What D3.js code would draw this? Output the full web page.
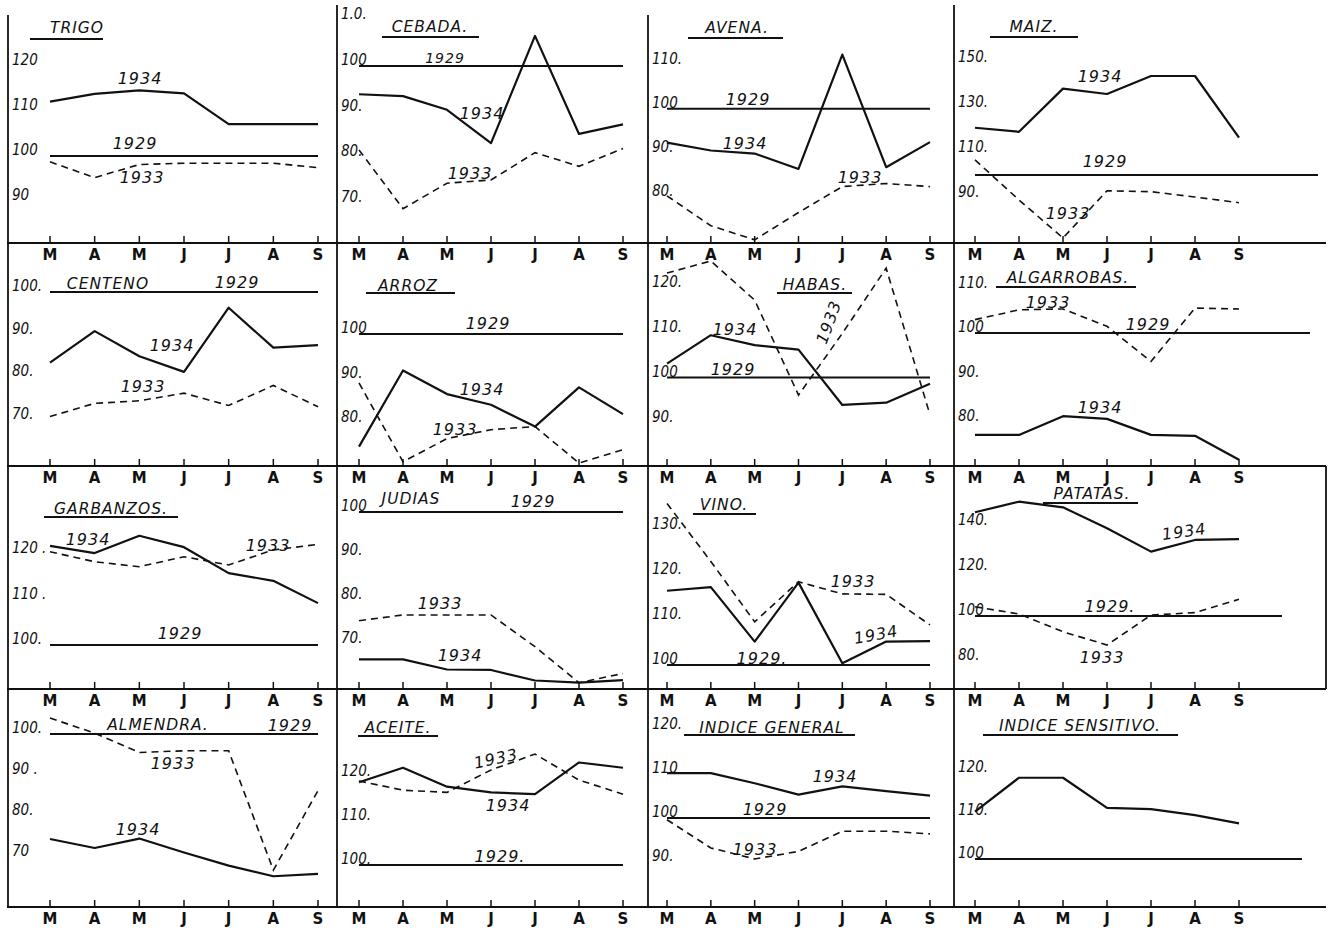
<!DOCTYPE html>
<html>
<head>
<meta charset="utf-8">
<script src="https://cdn.jsdelivr.net/npm/d3@7"></script>
<style>
  body { margin: 0; background: #fff; }
  svg text { font-family: "DejaVu Sans", "Liberation Sans", sans-serif; fill: #111; }
</style>
</head>
<body>
<div id="chart"></div>
<script>
var width  = 1329;
var height = 931;

// month initials along the bottom of every panel (March .. September)
var months = ["M", "A", "M", "J", "J", "A", "S"];

var titles = ["TRIGO", "CEBADA.", "AVENA.", "MAIZ.",
              "CENTENO", "ARROZ", "HABAS.", "ALGARROBAS.",
              "GARBANZOS.", "JUDIAS", "VINO.", "PATATAS.",
              "ALMENDRA.", "ACEITE.", "INDICE GENERAL", "INDICE SENSITIVO."];

// 1929 = 100 for every product
var base1929 = 100;

var v1934 = [
  [112.1, 113.8, 114.6, 113.9, 107.1, 107.1, 107.1],
  [93.8, 93.4, 90.4, 83.1, 106.6, 85.1, 87.2],
  [92.3, 90.5, 89.8, 86.3, 112.3, 86.7, 92.4],
  [121.0, 119.2, 138.4, 136.0, 144.0, 144.0, 116.6],
  [83.4, 90.8, 84.9, 81.2, 96.3, 86.9, 87.5],
  [74.7, 91.8, 86.5, 84.1, 79.2, 88.0, 82.0],
  [103.1, 109.4, 107.2, 106.2, 93.9, 94.4, 98.6],
  [77.1, 77.1, 81.3, 80.7, 77.1, 76.9, 71.5],
  [121.8, 120.2, 124.0, 121.5, 115.8, 114.1, 109.2],
  [66.5, 66.5, 64.2, 64.1, 61.7, 61.2, 61.8],
  [116.5, 117.3, 105.2, 118.3, 100.4, 105.2, 105.3],
  [146.1, 150.8, 148.3, 139.0, 128.6, 133.8, 134.2],
  [74.4, 72.2, 74.5, 71.1, 67.9, 65.3, 65.9],
  [118.8, 122.1, 117.8, 116.5, 116.1, 123.3, 122.1],
  [110.2, 110.2, 107.9, 105.3, 107.2, 106.1, 105.1],
  [111.0, 118.9, 118.9, 111.9, 111.6, 110.2, 108.3]
];

var v1933 = [
  [98.7, 95.2, 98.1, 98.4, 98.4, 98.4, 97.4],
  [81.6, 68.7, 74.3, 75.0, 81.0, 78.0, 81.9],
  [80.2, 73.4, 70.2, 76.4, 82.3, 83.0, 82.3],
  [106.7, 88.9, 72.0, 93.0, 92.6, 90.2, 87.7],
  [70.7, 73.8, 74.4, 76.2, 73.3, 78.0, 73.0],
  [89.0, 71.3, 76.5, 78.5, 79.2, 71.0, 74.0],
  [123.2, 125.9, 117.2, 96.1, 109.8, 124.3, 91.7],
  [103.0, 105.2, 105.4, 101.5, 93.6, 105.6, 105.4],
  [120.5, 118.3, 117.2, 119.4, 117.6, 120.9, 122.1],
  [75.3, 76.6, 76.6, 76.6, 69.4, 61.2, 63.3],
  [135.9, 123.0, 109.6, 118.5, 115.8, 115.7, 108.9],
  [104.1, 100.9, 93.0, 87.1, 100.4, 101.5, 107.4],
  [103.9, 100.2, 95.5, 95.9, 95.9, 66.8, 86.2],
  [119.1, 117.0, 116.5, 121.6, 125.2, 119.3, 116.1],
  [99.6, 93.2, 90.7, 92.4, 97.0, 97.0, 96.4],
  null
];

var tickValues = [
  [120, 110, 100, 90], [110, 100, 90, 80, 70], [110, 100, 90, 80], [150, 130, 110, 90],
  [100, 90, 80, 70], [100, 90, 80], [120, 110, 100, 90], [110, 100, 90, 80],
  [120, 110, 100], [100, 90, 80, 70], [130, 120, 110, 100], [140, 120, 100, 80],
  [100, 90, 80, 70], [120, 110, 100], [120, 110, 100, 90], [120, 110, 100]
];
var tickLabels = [
  ["120", "110", "100", "90"], ["1.0.", "100", "90.", "80.", "70."], ["110.", "100", "90.", "80."], ["150.", "130.", "110.", "90."],
  ["100.", "90.", "80.", "70."], ["100", "90.", "80."], ["120.", "110.", "100", "90."], ["110.", "100", "90.", "80."],
  ["120 .", "110 .", "100."], ["100", "90.", "80.", "70."], ["130.", "120.", "110.", "100"], ["140.", "120.", "100", "80."],
  ["100.", "90 .", "80.", "70"], ["120.", "110.", "100."], ["120.", "110", "100", "90."], ["120.", "110.", "100"]
];

// ---- layout (pixels) ----
var colLeft = [8, 337, 648, 954];
var colTop  = [15, 5, 15, 5];
var colX    = [[50, 318], [359, 623], [667, 930], [975, 1239]];
var rowAxis = [243, 466, 689, 907];

// y position of the 100 line and pixels per index point, per panel
var yLayout = [
  [156, 4.5], [66, 4.56], [108.7, 4.4], [175, 2.25],
  [292, 4.25], [334, 4.45], [377.5, 4.5], [333, 4.45],
  [645, 4.55], [512, 4.4], [665, 4.5], [616, 2.25],
  [734, 4.1], [865, 4.4], [818, 4.4], [859, 4.3]
];
// 1929 line end where it runs past September
var refEnd = {3: 1318, 7: 1310, 11: 1282, 15: 1302};

// title centre and underline [x1, x2, y]
var titlePos = [
  [77, 27, [30, 103, 39]], [430, 26, [382, 479, 37]], [737, 27, [688, 783, 38]], [1034, 26, [990, 1078, 37]],
  [108, 283, null], [408, 285, [366, 455, 293]], [815, 284, [777, 852, 293]], [1068, 277, [996, 1136, 287]],
  [111, 508, [44, 178, 517]], [411, 498, null], [724, 504, [693, 756, 514]], [1092, 493, [1043, 1138, 503]],
  [158, 724, null], [398, 727, [358, 438, 736]], [772, 727, [684, 855, 735]], [1080, 725, [983, 1178, 735]]
];

// year annotations: [text, x, y, rotation, size]
var notes = [
  [["1934", 140, 84, 0], ["1929", 135, 149, 0], ["1933", 142, 183, 0]],
  [["1929", 445, 63, 0, 14], ["1934", 482, 119, 0], ["1933", 470, 179, 0]],
  [["1929", 748, 105, 0], ["1934", 745, 149, 0], ["1933", 860, 183, 0]],
  [["1934", 1100, 82, 0], ["1929", 1105, 167, 0], ["1933", 1068, 219, 0]],
  [["1929", 237, 288, 0], ["1934", 172, 351, 0], ["1933", 143, 392, 0]],
  [["1929", 488, 329, 0], ["1934", 482, 395, 0], ["1933", 455, 435, 0]],
  [["1934", 735, 335, 0], ["1929", 733, 375, 0], ["1933", 834, 324, -70]],
  [["1933", 1048, 308, 0], ["1929", 1148, 330, 0], ["1934", 1100, 413, 0]],
  [["1934", 88, 545, 0], ["1933", 268, 551, 0], ["1929", 180, 639, 0]],
  [["1929", 533, 507, 0], ["1933", 440, 609, 0], ["1934", 460, 661, 0]],
  [["1933", 853, 587, 0], ["1934", 877, 640, -10], ["1929.", 762, 664, 0]],
  [["1934", 1185, 537, -8], ["1929.", 1110, 612, 0], ["1933", 1102, 663, 0]],
  [["1929", 290, 731, 0], ["1933", 173, 769, 0], ["1934", 138, 835, 0]],
  [["1933", 497, 764, -12], ["1934", 508, 811, 0], ["1929.", 500, 862, 0]],
  [["1934", 835, 782, 0], ["1929", 765, 815, 0], ["1933", 755, 855, 0]],
  []
];

var ink = "#111";

var svg = d3.select("#chart").append("svg")
  .attr("width", width)
  .attr("height", height)
  .style("background", "#fff");

// frame: the horizontal axis lines and the column separators
var frame = svg.append("g").attr("class", "frame");
rowAxis.forEach(function(y) {
  frame.append("line")
    .attr("x1", 7).attr("x2", 1326)
    .attr("y1", y).attr("y2", y)
    .attr("stroke", ink).attr("stroke-width", 2);
});
colLeft.forEach(function(x, c) {
  frame.append("line")
    .attr("x1", x).attr("x2", x)
    .attr("y1", colTop[c]).attr("y2", rowAxis[3])
    .attr("stroke", ink).attr("stroke-width", 1.8);
});
// right edge only survives beside the third row
frame.append("line")
  .attr("x1", 1326).attr("x2", 1326)
  .attr("y1", rowAxis[1]).attr("y2", rowAxis[2])
  .attr("stroke", ink).attr("stroke-width", 1.8);

titles.forEach(function(title, i) {
  var row = Math.floor(i / 4), col = i % 4;
  var g = svg.append("g").attr("class", "panel");

  var x = d3.scalePoint().domain(d3.range(months.length)).range(colX[col]);
  var y100 = yLayout[i][0], ppu = yLayout[i][1];
  var y = d3.scaleLinear().domain([100, 110]).range([y100, y100 - 10 * ppu]);

  // month ticks and letters under the panel
  var axisY = rowAxis[row];
  g.selectAll(".mtick").data(months).enter().append("line")
    .attr("x1", function(d, k) { return x(k); })
    .attr("x2", function(d, k) { return x(k); })
    .attr("y1", axisY - 7).attr("y2", axisY)
    .attr("stroke", ink).attr("stroke-width", 1.5);
  g.selectAll(".mlabel").data(months).enter().append("text")
    .attr("x", function(d, k) { return x(k); })
    .attr("y", axisY + 17)
    .attr("text-anchor", "middle")
    .style("font-size", "15px")
    .style("font-weight", "bold")
    .text(function(d) { return d; });

  // hand-lettered y labels
  g.selectAll(".ylabel").data(tickValues[i]).enter().append("text")
    .attr("x", colLeft[col] + 4)
    .attr("y", function(d) { return y(d) - 1; })
    .style("font-family", "'DejaVu Sans Condensed', 'DejaVu Sans', sans-serif")
    .style("font-size", "15px")
    .style("font-style", "italic")
    .text(function(d, k) { return tickLabels[i][k]; });

  // 1929 base line
  g.append("line")
    .attr("x1", x(0)).attr("x2", refEnd[i] || x(6))
    .attr("y1", y(base1929)).attr("y2", y(base1929))
    .attr("stroke", ink).attr("stroke-width", 2);

  var line = d3.line()
    .x(function(d, k) { return x(k); })
    .y(function(d) { return y(d); });

  if (v1933[i]) {
    g.append("path")
      .datum(v1933[i])
      .attr("d", line)
      .attr("fill", "none")
      .attr("stroke", ink)
      .attr("stroke-width", 1.6)
      .attr("stroke-dasharray", "7,5");
  }
  g.append("path")
    .datum(v1934[i])
    .attr("d", line)
    .attr("fill", "none")
    .attr("stroke", ink)
    .attr("stroke-width", 2.2)
    .attr("stroke-linejoin", "round");

  // title with underline
  var tp = titlePos[i];
  g.append("text")
    .attr("x", tp[0]).attr("y", tp[1] + 6)
    .attr("text-anchor", "middle")
    .style("font-size", "15.5px")
    .style("font-style", "italic")
    .style("letter-spacing", "1px")
    .text(title);
  if (tp[2]) {
    g.append("line")
      .attr("x1", tp[2][0]).attr("x2", tp[2][1])
      .attr("y1", tp[2][2]).attr("y2", tp[2][2])
      .attr("stroke", ink).attr("stroke-width", 2);
  }

  // year annotations
  notes[i].forEach(function(n) {
    g.append("text")
      .attr("transform", "translate(" + n[1] + "," + n[2] + ") rotate(" + n[3] + ")")
      .attr("text-anchor", "middle")
      .style("font-size", (n[4] || 16) + "px")
      .style("font-style", "italic")
      .style("letter-spacing", "1px")
      .text(n[0]);
  });
});
</script>
</body>
</html>
